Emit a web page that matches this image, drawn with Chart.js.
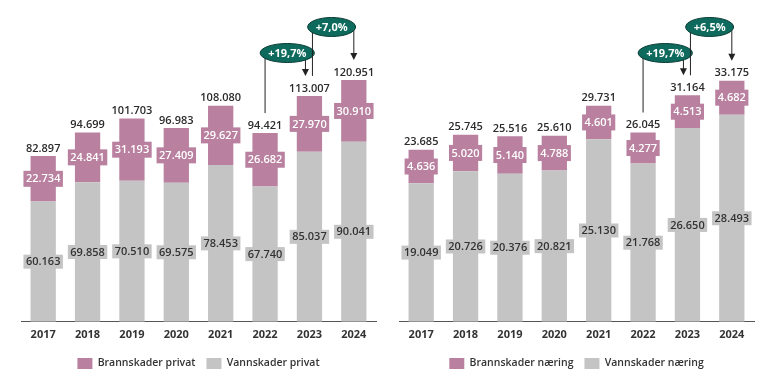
<!DOCTYPE html>
<html>
<head>
<meta charset="utf-8">
<script src="https://cdn.jsdelivr.net/npm/chart.js@4.4.1/dist/chart.umd.min.js"></script>
<style>
  html, body { margin: 0; padding: 0; background: #fff; }
  #wrap { position: relative; width: 770px; height: 386px; }
  .panel { position: absolute; top: 0; width: 385px; height: 386px; }
  #left { left: 0; }
  #right { left: 385px; }
</style>
</head>
<body>
<div id="wrap">
  <div class="panel" id="left"><canvas id="privatChart" width="385" height="386"></canvas></div>
  <div class="panel" id="right"><canvas id="naeringChart" width="385" height="386"></canvas></div>
</div>
<script>
// data
const years = ['2017', '2018', '2019', '2020', '2021', '2022', '2023', '2024'];

const privatBrann = [22734, 24841, 31193, 27409, 29627, 26682, 27970, 30910];
const privatVann  = [60163, 69858, 70510, 69575, 78453, 67740, 85037, 90041];
const privatTotal = [82897, 94699, 101703, 96983, 108080, 94421, 113007, 120951];
const privatGrowth = [
  { from: 5, to: 6, text: '+19,7%' },
  { from: 6, to: 7, text: '+7,0%' }
];

const naeringBrann = [4636, 5020, 5140, 4788, 4601, 4277, 4513, 4682];
const naeringVann  = [19049, 20726, 20376, 20821, 25130, 21768, 26650, 28493];
const naeringTotal = [23685, 25745, 25516, 25610, 29731, 26045, 31164, 33175];
const naeringGrowth = [
  { from: 5, to: 6, text: '+19,7%' },
  { from: 6, to: 7, text: '+6,5%' }
];

const PINK = '#b9819f';
const GREY = '#c4c4c4';
const TEAL = '#0e6a5c';
const FONT = '"Open Sans", "Noto Sans", sans-serif';

function fmt(v){ return String(v).replace(/\B(?=(\d{3})+(?!\d))/g, '.'); }

// value boxes inside the bars + totals on top
const barLabels = {
  id: 'barLabels',
  afterDatasetsDraw(chart, args, opts){
    const ctx = chart.ctx;
    ctx.save();
    ctx.font = '600 11px ' + FONT;
    ctx.textAlign = 'center';
    ctx.textBaseline = 'middle';
    chart.data.datasets.forEach((ds, di) => {
      const meta = chart.getDatasetMeta(di);
      meta.data.forEach((bar, i) => {
        const txt = fmt(ds.data[i]);
        const w = ctx.measureText(txt).width + 5;
        const h = di === 0 ? 14 : 16;
        const cy = (bar.y + bar.base) / 2;
        ctx.fillStyle = ds.backgroundColor;
        ctx.fillRect(bar.x - w/2, cy - h/2, w, h);
        ctx.fillStyle = di === 0 ? '#333' : '#fff';
        ctx.fillText(txt, bar.x, cy + 0.5);
      });
    });
    // totals
    const top = chart.getDatasetMeta(chart.data.datasets.length - 1);
    ctx.fillStyle = '#2b2b2b';
    ctx.textBaseline = 'bottom';
    top.data.forEach((bar, i) => {
      ctx.fillText(fmt(opts.totals[i]), bar.x, bar.y - 2);
    });
    ctx.restore();
  }
};

// growth ellipses with connector lines and arrows
const growthMarks = {
  id: 'growthMarks',
  afterDatasetsDraw(chart, args, opts){
    const ctx = chart.ctx;
    const top = chart.getDatasetMeta(chart.data.datasets.length - 1).data;
    const froms = opts.items.map(g => g.from);
    const tos = opts.items.map(g => g.to);
    ctx.save();
    opts.items.forEach((g, k) => {
      const cy = 53 - k * 26;
      const fx = top[g.from].x + (tos.includes(g.from) ? 3 : 0);
      const tx = top[g.to].x - (froms.includes(g.to) ? 4 : 0);
      const fEnd = top[g.from].y - 20;
      const tEnd = top[g.to].y - 20;
      ctx.strokeStyle = '#222';
      ctx.lineWidth = 1;
      ctx.beginPath();
      ctx.moveTo(fx, cy); ctx.lineTo(fx, fEnd);
      ctx.moveTo(tx, cy); ctx.lineTo(tx, tEnd - 6);
      ctx.stroke();
      ctx.fillStyle = '#222';
      ctx.beginPath();
      ctx.moveTo(tx - 3.5, tEnd - 7);
      ctx.lineTo(tx + 3.5, tEnd - 7);
      ctx.lineTo(tx, tEnd);
      ctx.closePath();
      ctx.fill();

      const cx = (top[g.from].x + top[g.to].x) / 2;
      ctx.font = '700 11px ' + FONT;
      const w = ctx.measureText(g.text).width + 16;
      ctx.beginPath();
      ctx.ellipse(cx, cy, w/2, 9.5, 0, 0, Math.PI * 2);
      ctx.fillStyle = TEAL;
      ctx.fill();
      ctx.strokeStyle = '#0a3d36';
      ctx.stroke();
      ctx.fillStyle = '#fff';
      ctx.textAlign = 'center';
      ctx.textBaseline = 'middle';
      ctx.fillText(g.text, cx, cy + 0.5);
    });
    ctx.restore();
  }
};

function makeChart(id, vann, brann, totals, growth, names, yMax, pad){
  return new Chart(document.getElementById(id), {
    type: 'bar',
    data: {
      labels: years,
      datasets: [
        { label: names[1], data: vann, backgroundColor: GREY, categoryPercentage: 1, barPercentage: 0.57 },
        { label: names[0], data: brann, backgroundColor: PINK, categoryPercentage: 1, barPercentage: 0.57 }
      ]
    },
    options: {
      responsive: false,
      animation: false,
      layout: { padding: pad },
      plugins: {
        legend: {
          position: 'bottom',
          reverse: true,
          labels: {
            boxWidth: 15, boxHeight: 11, padding: 11,
            color: '#333',
            font: { family: FONT, size: 10.5, weight: '600' }
          }
        },
        tooltip: { enabled: false },
        barLabels: { totals: totals },
        growthMarks: { items: growth }
      },
      scales: {
        x: {
          stacked: true,
          grid: { display: false, drawTicks: false },
          border: { display: true, color: '#555', width: 1 },
          ticks: { color: '#333', padding: 6, font: { family: FONT, size: 11, weight: '700' } }
        },
        y: {
          stacked: true,
          display: false,
          min: 0,
          max: yMax
        }
      }
    },
    plugins: [barLabels, growthMarks]
  });
}

makeChart('privatChart', privatVann, privatBrann, privatTotal, privatGrowth,
  ['Brannskader privat', 'Vannskader privat'], 160000,
  { left: 21, right: 9, top: 2, bottom: 7 });

makeChart('naeringChart', naeringVann, naeringBrann, naeringTotal, naeringGrowth,
  ['Brannskader næring', 'Vannskader næring'], 44000,
  { left: 14, right: 16, top: 2, bottom: 7 });
</script>
</body>
</html>
